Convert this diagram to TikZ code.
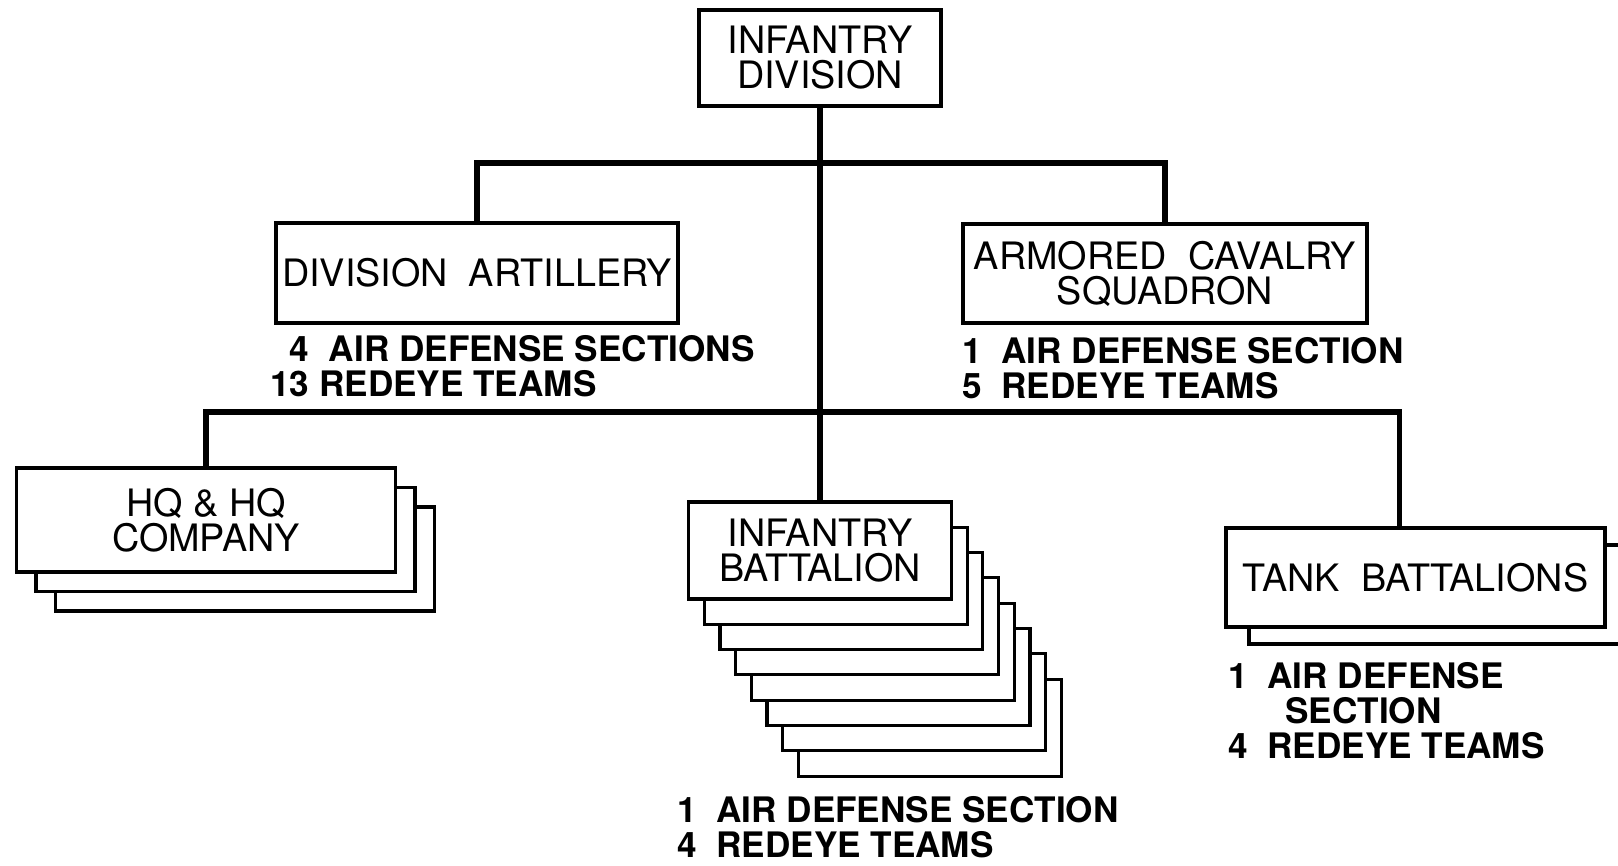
\documentclass[tikz,border=0pt]{standalone}
\usepackage{fontspec}
\setmainfont{TeX Gyre Heros}
\usepackage{tikz}
\usetikzlibrary{positioning,calc}

\begin{document}
\begin{tikzpicture}[x=0.02cm, y=-0.02cm,
    font=\fontsize{20pt}{20pt}\selectfont,
    unit/.style={draw, line width=1.8pt, fill=white, align=center, inner sep=0pt,
      font=\fontsize{21.5pt}{20pt}\selectfont},
    link/.style={line width=3pt},
    note/.style={anchor=north west, align=left, inner sep=0pt,
      font=\fontsize{20pt}{20pt}\selectfont\bfseries}]
  \clip (0,0) rectangle (1618,865);
  % division and its first level
  \node[unit, minimum width=4.84cm, minimum height=1.92cm] (div) at (820,58)
    {INFANTRY\\DIVISION};
  \node[unit, minimum width=8.04cm, minimum height=2cm] (art) at (477,273)
    {DIVISION~ ARTILLERY};
  \node[unit, minimum width=8.08cm, minimum height=1.98cm] (cav) at (1165,273.5)
    {ARMORED~ CAVALRY\\SQUADRON};
  \node[note] (artnote) at (270,335)
    {\phantom{1}4~ AIR DEFENSE SECTIONS\\13 REDEYE TEAMS};
  \node[note] (cavnote) at (962,337)
    {1~ AIR DEFENSE SECTION\\5~ REDEYE TEAMS};
  % stacked units, the ones behind first
  \foreach \i in {2,1} {
    \node[unit, minimum width=7.58cm, minimum height=2.08cm] (hq\i)
      at (206+\i*19.5,520+\i*19.5) {};
  }
  \node[unit, minimum width=7.58cm, minimum height=2.08cm] (hq) at (206,520)
    {HQ \& HQ\\COMPANY};
  \foreach \i in {7,6,...,1} {
    \node[unit, minimum width=5.26cm, minimum height=1.94cm] (ib\i)
      at (820+\i*15.7,550.5+\i*25.3) {};
  }
  \node[unit, minimum width=5.26cm, minimum height=1.94cm] (ib) at (820,550.5)
    {INFANTRY\\BATTALION};
  \node[note] (ibnote) at (677,796)
    {1~ AIR DEFENSE SECTION\\4~ REDEYE TEAMS};
  \node[unit, minimum width=7.58cm, minimum height=1.98cm] (tank1)
    at (1415.5+23,577.5+17) {};
  \node[unit, minimum width=7.58cm, minimum height=1.98cm] (tank) at (1415.5,577.5)
    {TANK~ BATTALIONS};
  \node[note] (tanknote) at (1228,662)
    {1~ AIR DEFENSE\\\hspace*{1.14cm}SECTION\\4~ REDEYE TEAMS};
  % connectors
  \coordinate (j1) at (0,163);
  \coordinate (j2) at (0,412);
  \coordinate (tk) at ([xshift=-0.32cm]tank.north);
  \draw[link] (div.south) -- (ib.north);
  \draw[link] (art.north) |- (j1 -| cav.north) -- (cav.north);
  \draw[link] (hq.north) |- (j2 -| tk) -- (tk);
\end{tikzpicture}
\end{document}
